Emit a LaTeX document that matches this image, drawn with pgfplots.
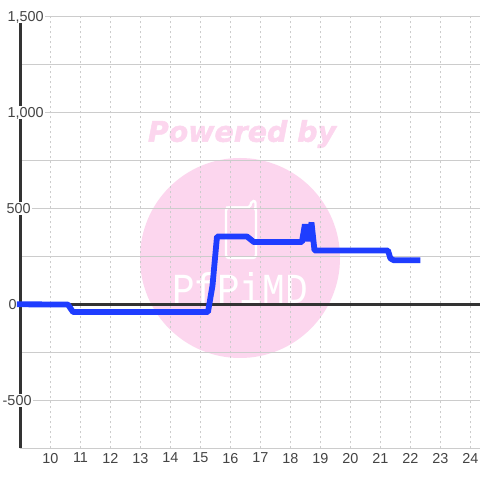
\documentclass[border=0pt]{standalone}
\usepackage{pgfplots}
\pgfplotsset{compat=1.18}
\usepackage{fontspec}
\setmainfont{Liberation Sans}
\newfontfamily\wmfont[BoldItalicFeatures={FakeBold=1.6}]{DejaVu Sans}
\newfontfamily\logofont{Liberation Mono}
\definecolor{wm}{HTML}{FCD6EE}
\definecolor{blueline}{HTML}{1F3DFF}
\definecolor{gridc}{HTML}{CCCCCC}
\definecolor{darkc}{HTML}{333333}
\definecolor{labc}{HTML}{444444}
\begin{document}
\begin{tikzpicture}[x=1pt,y=1pt]
\path[use as bounding box] (0,0) rectangle (480,480);
\fill[white] (0,0) rectangle (480,480);
\coordinate (o) at (20.5,31.5);
% watermark
\fill[wm] (240,222) circle (100);
\node[text=wm,inner sep=0pt] at (242,346) {\fontsize{28.4}{30}\selectfont\wmfont\bfseries\itshape Powered by};
\draw[white,line width=2.4,rounded corners=3] (226,222) rectangle (256,272.5);
\fill[wm] (250,276) rectangle (254,271);
\draw[white,line width=2.4,rounded corners=2] (226,272.5) -- (250,272.5) -- (251.5,279) -- (255.5,279) -- (255.5,270);
\node[text=white,inner sep=0pt,anchor=base] at (240,176) {\fontsize{44}{44}\selectfont\logofont\resizebox{136pt}{31pt}{PfPiMD}};
\begin{axis}[
  at={(o)},anchor=south west,
  scale only axis,width=459.5pt,height=432pt,
  xmin=9,xmax=24.3167,ymin=-750,ymax=1500,
  clip=false,
  axis x line*=bottom,axis y line*=left,
  x axis line style={draw=gridc,line width=1pt,-},
  y axis line style={draw=darkc,line width=3pt,-},
  xtick={10,...,24},
  ytick={-500,0,500,1000,1500},
  minor ytick={-250,250,750,1250},
  yticklabels={-500,\hspace{6pt}0,\hspace{4pt}500,\hspace{5pt}{1,000},\hspace{5pt}{1,500}},
  tick style={draw=none},
  minor tick style={draw=none},
  xmajorgrids,ymajorgrids,yminorgrids,
  x grid style={draw=gridc,line width=1pt,dash pattern=on 2.5pt off 2.5pt},
  y grid style={draw=gridc,line width=1pt},
  minor y grid style={draw=gridc,line width=1pt},
  xticklabel style={text=labc,font=\fontsize{14.4}{14.4}\selectfont,yshift=-1pt,
    /pgf/number format/assume math mode=true},
  yticklabel style={text=labc,font=\fontsize{14.4}{14.4}\selectfont,anchor=west,fill=white,
    inner xsep=1.5pt,inner ysep=1.5pt,text height=10.5pt,text depth=0pt,xshift=-19.5pt},
]
\addplot[darkc,line width=2.6pt,forget plot] coordinates {(9,0) (24.3167,0)};
\addplot[blueline,line width=5.8pt,line join=bevel] coordinates {
 (8.88,1) (10.58,0) (10.75,-39) (15.25,-39) (15.4,99) (15.55,354)
 (16.55,354) (16.78,325) (18.38,325) (18.48,417) (18.58,330)
 (18.7,427) (18.8,281) (21.25,281) (21.33,240) (21.45,230) (22.33,230)
};
\end{axis}
\end{tikzpicture}
\end{document}
